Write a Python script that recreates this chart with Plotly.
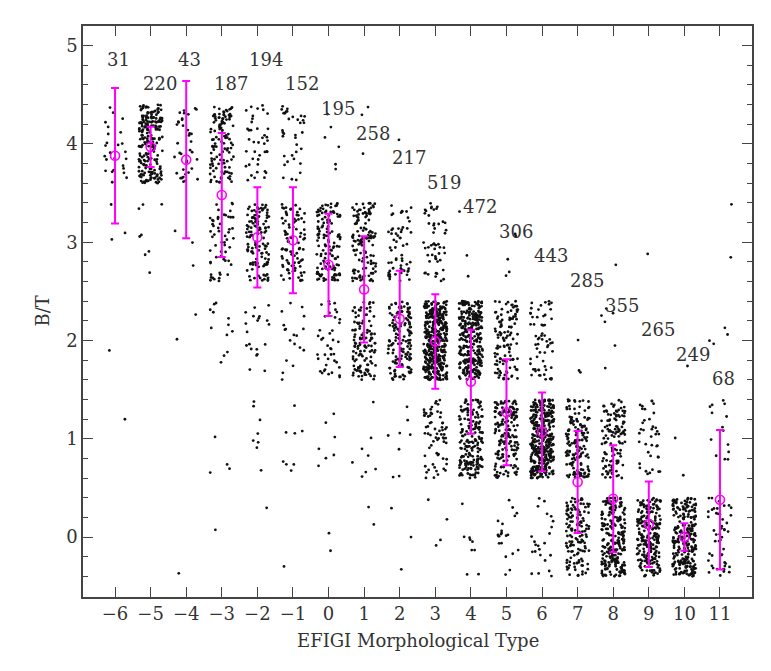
import numpy as np
import plotly.graph_objects as go

# ---- data ----
types = list(range(-6, 12))
n_gal = [31, 220, 43, 187, 194, 152, 195, 258, 217, 519, 472, 306, 443, 285, 355, 265, 249, 68]

# number of galaxies per discrete B/T class (0..4) for each type
n_bt4 = [26, 212, 37, 115, 40, 35, 6, 3, 1, 0, 0, 0, 0, 0, 0, 0, 0, 0]
n_bt3 = [3, 8, 3, 55, 125, 90, 140, 125, 60, 50, 3, 5, 0, 0, 1, 1, 0, 2]
n_bt2 = [1, 0, 2, 12, 20, 18, 40, 120, 145, 400, 280, 110, 60, 3, 6, 0, 1, 4]
n_bt1 = [1, 0, 0, 4, 8, 8, 7, 8, 8, 65, 180, 170, 360, 150, 120, 38, 2, 14]
n_bt0 = [0, 0, 1, 1, 1, 1, 2, 2, 3, 4, 9, 21, 23, 132, 228, 226, 246, 48]
bt_levels = [0, 1, 2, 3, 4]

mean_bt = [3.88, 3.97, 3.84, 3.48, 3.05, 3.02, 2.77, 2.52, 2.22, 1.99, 1.58, 1.27, 1.07, 0.56, 0.39, 0.13, 0.00, 0.38]
std_bt = [0.69, 0.205, 0.80, 0.63, 0.51, 0.54, 0.52, 0.54, 0.49, 0.48, 0.53, 0.54, 0.40, 0.52, 0.545, 0.435, 0.14, 0.71]

# ---- deterministic display jitter (hash-based, no RNG) ----
XJ, YJ = 0.33, 0.40


def hash01(a):
    return np.modf(np.abs(np.sin(a) * 43758.5453))[0]


xs, ys = [], []
g = 0
for i, t in enumerate(types):
    for lvl, counts in zip(bt_levels, [n_bt0, n_bt1, n_bt2, n_bt3, n_bt4]):
        n = counts[i]
        if n == 0:
            continue
        k = np.arange(1, n + 1, dtype=float)
        u = hash01(k * 12.9898 + g * 78.233)
        v = hash01(k * 39.3468 + g * 11.135 + 0.5)
        xs.append(t + XJ * (2 * u - 1))
        ys.append(lvl + YJ * (2 * v - 1))
        g += 1
xs = np.concatenate(xs)
ys = np.concatenate(ys)

FONT = "DejaVu Serif"
TXT = "#333333"
AX = "#444444"

fig = go.Figure()
fig.add_trace(go.Scatter(
    x=xs, y=ys, mode="markers",
    marker=dict(symbol="circle", size=2.8, color="#111111", line=dict(width=0)),
    hoverinfo="skip", showlegend=False,
))
fig.add_trace(go.Scatter(
    x=types, y=mean_bt, mode="markers",
    marker=dict(symbol="circle-open", size=9, color="#ff00ff", line=dict(width=1.6, color="#ff00ff")),
    error_y=dict(type="data", array=std_bt, visible=True, color="#ff00ff", thickness=2, width=4),
    showlegend=False,
))

for t, n in zip(types, n_gal):
    ly = (4.86 if t % 2 == 0 else 4.61) if t < 0 else 4.36 - 0.25 * t
    fig.add_annotation(x=t - 0.28, y=ly, text=str(n), showarrow=False,
                       xanchor="left", yanchor="middle",
                       font=dict(family=FONT, size=18, color=TXT))

fig.add_annotation(x=0.5, y=0, xref="paper", yref="paper", yshift=-43,
                   text="EFIGI Morphological Type", showarrow=False,
                   xanchor="center", yanchor="middle",
                   font=dict(family=FONT, size=18, color=TXT))
fig.add_annotation(x=0, y=0.5, xref="paper", yref="paper", xshift=-41,
                   text="B/T", showarrow=False, textangle=-90,
                   xanchor="center", yanchor="middle",
                   font=dict(family=FONT, size=18, color=TXT))

fig.update_xaxes(
    range=[-6.9, 11.9], tickmode="array", tickvals=types,
    ticks="inside", ticklen=10, tickwidth=1, tickcolor=AX,
    showline=True, linecolor=AX, linewidth=1.5, mirror="ticks",
    showgrid=False, zeroline=False,
    tickfont=dict(family=FONT, size=18, color=TXT),
)
fig.update_yaxes(
    range=[-0.61, 5.2], tickmode="array", tickvals=[0, 1, 2, 3, 4, 5],
    ticks="inside", ticklen=10, tickwidth=1, tickcolor=AX,
    minor=dict(tickmode="linear", tick0=0, dtick=0.2, ticks="inside", ticklen=5, tickcolor=AX, showgrid=False),
    showline=True, linecolor=AX, linewidth=1.5, mirror="ticks",
    showgrid=False, zeroline=False,
    tickfont=dict(family=FONT, size=18, color=TXT),
)
# page body has an 8px default margin: shrink the figure accordingly
fig.update_layout(
    width=763, height=663,
    margin=dict(l=75, r=19, t=18, b=74),
    paper_bgcolor="white", plot_bgcolor="white",
)
fig.write_html("out.html")
